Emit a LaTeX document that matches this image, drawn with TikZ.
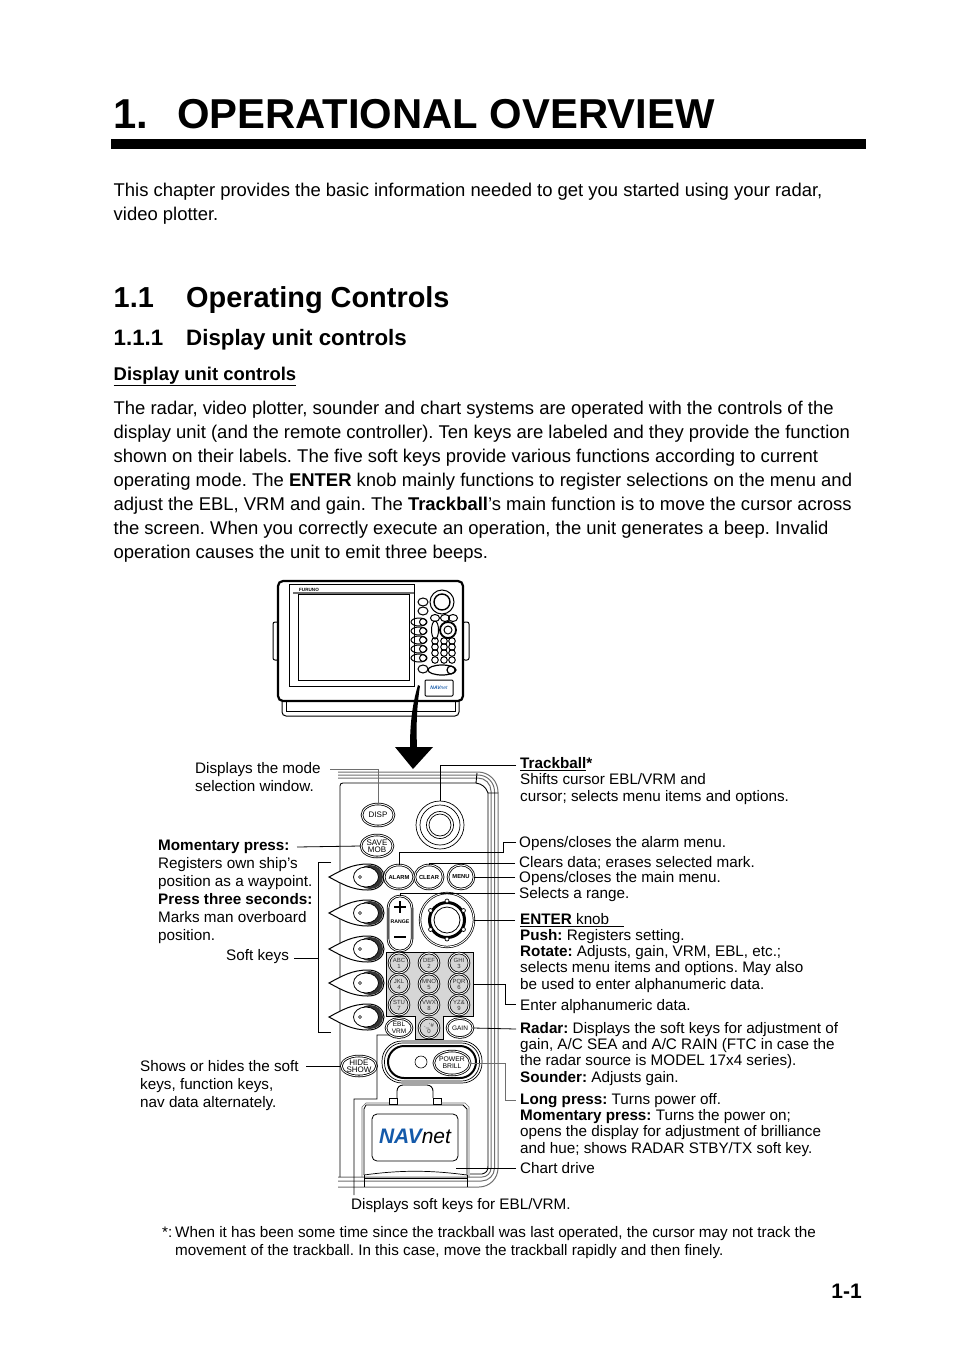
\documentclass[tikz,border=0pt]{standalone}
\usepackage{fontspec}
\setmainfont{Liberation Sans}
\usetikzlibrary{shapes.geometric}
\definecolor{navblue}{RGB}{20,90,170}
\definecolor{padgray}{RGB}{214,214,214}
\definecolor{leadgray}{RGB}{110,110,110}
\tikzset{
  bodytext/.style={anchor=base west, inner sep=0pt, align=left, font=\fontsize{18.45}{24}\selectfont\frenchspacing},
  labeltext/.style={anchor=base west, inner sep=0pt, align=left, font=\fontsize{15.25}{16.1}\selectfont\frenchspacing},
  sidetext/.style={anchor=base west, inner sep=0pt, align=left, font=\fontsize{15.25}{18}\selectfont\frenchspacing},
  keybtn/.style={draw, ellipse, fill=white, inner sep=0pt, line width=0.8pt, double, double distance=0.9pt, font=\fontsize{8}{8}\selectfont, align=center},
  smallkey/.style={keybtn, font=\fontsize{5.8}{6}\selectfont\bfseries},
  padkey/.style={keybtn, fill=padgray, minimum width=20pt, minimum height=20pt, font=\fontsize{6}{6}\selectfont, text=black!80},
  leader/.style={line width=0.8pt},
  panelline/.style={line width=1pt, leadgray}
}
\newcommand{\softkey}[1]{
  \begin{scope}[yshift=-#1pt]
    \draw[fill=white, line width=1pt] (329,0) .. controls (342,-7) and (352,-13) .. (368,-13) .. controls (378,-13) and (384,-7) .. (384,0) .. controls (384,7) and (378,13) .. (368,13) .. controls (352,13) and (342,7) .. (329,0) -- cycle;
    \fill[black!80] (370,0) ellipse (13 and 12);
    \draw[fill=white, line width=0.8pt] (366,0) ellipse (12.5 and 10);
    \draw[line width=0.6pt] (360,0) circle (1.5);
  \end{scope}
}
\begin{document}
\begin{tikzpicture}[x=1pt,y=-1pt]
\useasboundingbox (0,0) rectangle (954,1351);
% Page headings and running text
\node[anchor=base west, inner sep=0pt, font=\fontsize{41.8}{42}\selectfont\bfseries] (chapnum) at (113.5,129) {1.};
\node[anchor=base west, inner sep=0pt, font=\fontsize{41.8}{42}\selectfont\bfseries] (chaptitle) at (177,129) {OPERATIONAL OVERVIEW};
\fill (111,139) rectangle (866,149);
\node[bodytext] (intro) at (113.5,220) {This chapter provides the basic information needed to get you started using your radar,\\video plotter.};
\node[anchor=base west, inner sep=0pt, font=\fontsize{28.9}{29}\selectfont\bfseries] (secnum) at (113.5,307.5) {1.1};
\node[anchor=base west, inner sep=0pt, font=\fontsize{28.9}{29}\selectfont\bfseries] (sectitle) at (186,307.5) {Operating Controls};
\node[anchor=base west, inner sep=0pt, font=\fontsize{22.3}{22}\selectfont\bfseries] (subnum) at (113.5,345) {1.1.1};
\node[anchor=base west, inner sep=0pt, font=\fontsize{22.3}{22}\selectfont\bfseries] (subtitle) at (186,345) {Display unit controls};
\node[anchor=base west, inner sep=0pt, font=\fontsize{18.45}{24}\selectfont\bfseries] (runhead) at (113.5,380) {\underline{Display unit controls}};
\node[bodytext] (bodypara) at (113.5,558) {The radar, video plotter, sounder and chart systems are operated with the controls of the\\display unit (and the remote controller). Ten keys are labeled and they provide the function\\shown on their labels. The five soft keys provide various functions according to current\\operating mode. The \textbf{ENTER} knob mainly functions to register selections on the menu and\\adjust the EBL, VRM and gain. The \textbf{Trackball}’s main function is to move the cursor across\\the screen. When you correctly execute an operation, the unit generates a beep. Invalid\\operation causes the unit to emit three beeps.};

% Small view of the display unit
\draw[line width=1pt, rounded corners=4pt] (282,700) -- (282,716) -- (459,716) -- (459,700);
\draw[line width=0.6pt] (286,700) -- (286,711) -- (455,711) -- (455,700);
\draw[line width=1pt, rounded corners=2pt, fill=white] (273,622) rectangle (279,660);
\draw[line width=1pt, rounded corners=2pt, fill=white] (463,622) rectangle (469,660);
\draw[line width=2.2pt, rounded corners=5pt, fill=white] (278,581) rectangle (463,701);
\draw[line width=0.7pt] (289,584) rectangle (414,686);
\draw[line width=1pt] (298,594) rectangle (409,680);
\draw[line width=1.4pt, leadgray] (293,593) -- (414,593);
\node[inner sep=0pt, font=\fontsize{4.6}{5}\selectfont\bfseries] (logo) at (309,589.5) {FURUNO};
\draw[line width=1pt] (442,602) circle (12);
\draw[line width=1.4pt] (442,602) circle (8);
\foreach \y in {602,611,669} \draw[line width=1pt] (423,\y) ellipse (5 and 4);
\foreach \y in {622,631,640,649,658} {
  \draw[line width=1pt] (419,\y) ellipse (8 and 4);
  \draw[line width=1pt] (423,\y) circle (3.5);
}
\foreach \x in {435,445,453} \draw[line width=1pt] (\x,618) ellipse (4.5 and 3.5);
\draw[line width=1pt] (435,630) ellipse (3.5 and 9);
\draw[line width=1.8pt] (448,630) circle (8);
\draw[line width=1pt] (448,630) circle (4);
\foreach \x in {435,444,452} \foreach \y in {641,647,653,660} \draw[line width=1pt] (\x,\y) circle (3.3);
\draw[line width=1.2pt] (442,670) ellipse (14 and 5);
\draw[line width=1.2pt] (451,670) circle (4);
\draw[line width=1pt, rounded corners=1pt] (425,680) rectangle (453,696);
\node[inner sep=0pt, font=\fontsize{5}{5}\selectfont\itshape, text=navblue] (smallnav) at (439,688) {\textbf{NAV}net};
% Big arrow down to the panel
\fill (418,685) .. controls (412,705) and (410,725) .. (410,747) -- (395,747) -- (413,769) -- (433,747) -- (417,747) .. controls (416,725) and (417,705) .. (420,686) -- cycle;

% Panel outline
\draw[panelline] (338,772) -- (478,772) arc (-90:0:20) -- (498,1168) arc (0:90:19) -- (338,1187);
\draw[panelline] (338,775) -- (478,775) arc (-90:0:16.5) -- (494.5,1168) arc (0:90:13) -- (338,1181);
\draw[panelline] (338,778) -- (478,778) arc (-90:0:13) -- (491,1168) arc (0:90:9) -- (338,1177);
\draw[line width=0.9pt] (340,1177) -- (340,786) .. controls (340,784) and (341,783) .. (343,783) -- (476,783) -- (477,773);
\draw[line width=0.9pt] (476,783) .. controls (482,784) and (486,787) .. (488,793) -- (498,793);
\draw[line width=0.9pt] (488,793) -- (488,1166) .. controls (488,1171) and (486,1173) .. (482,1174) -- (470,1174);

% Soft keys
\foreach \y in {877,913,949,983,1017} {\softkey{\y}}

% Trackball
\node[draw, circle, minimum size=48pt, inner sep=0pt, line width=0.7pt] (trackball) at (440,825) {};
\draw[line width=0.7pt] (440,825) circle (20);
\draw[line width=0.7pt] (440,825) circle (13.5);
\draw[line width=0.7pt] (440,825) circle (11);

% Keypad background
\draw[fill=padgray, line width=1pt] (386,952) -- (473,952) -- (473,1016) -- (443,1016) -- (443,1039) -- (415,1039) -- (415,1016) -- (386,1016) -- cycle;

% Keys
\node[keybtn, minimum width=32pt, minimum height=22pt] (disp) at (378,815) {DISP};
\node[keybtn, minimum width=32pt, minimum height=22pt] (savemob) at (377,846) {SAVE\\[-1pt]MOB};
\node[smallkey, minimum width=25pt, minimum height=24pt] (alarm) at (399,877) {ALARM};
\node[smallkey, minimum width=25pt, minimum height=24pt] (clear) at (429,877) {CLEAR};
\node[smallkey, minimum width=26pt, minimum height=24pt] (menu) at (461,877) {MENU};
\node[draw, rounded corners=12pt, fill=white, line width=0.8pt, double, double distance=0.9pt, minimum width=24pt, minimum height=55pt, inner sep=0pt] (range) at (400,923.5) {};
\draw[line width=1.4pt] (394,907) -- (406,907) (400,901) -- (400,913);
\draw[line width=1.4pt] (394,937) -- (406,937);
\node[inner sep=0pt, font=\fontsize{5.2}{6}\selectfont\bfseries] (rangetxt) at (400,922) {RANGE};
\node[draw, circle, minimum size=54pt, inner sep=0pt, line width=0.7pt, double, double distance=0.9pt] (enter) at (447,920) {};
\draw[line width=3pt] (447,920) circle (17.5);
\draw[line width=0.8pt] (447,920) circle (13);
\foreach \a in {30,90,150,210,270,330} \draw[fill=white, line width=0.7pt] (447,920) ++(\a:19) circle (2);
\foreach \x/\y/\t/\n [count=\i] in {399/963/ABC/1,429/963/DEF/2,459/963/GHI/3,399/984/JKL/4,429/984/MNO/5,459/984/PQR/6,399/1005/STU/7,429/1005/VWX/8,459/1005/YZ\&/9} {
  \node[padkey] (pad\i) at (\x,\y) {\t\\\n};
}
\node[padkey] (padzero) at (429,1028) {.\_'\#\\0};
\node[keybtn, minimum width=26pt, minimum height=19pt, font=\fontsize{6.5}{6.5}\selectfont] (ebl) at (399,1028) {EBL\\VRM};
\node[keybtn, minimum width=26pt, minimum height=19pt, font=\fontsize{6.5}{6.5}\selectfont] (gain) at (460,1028) {GAIN};
\node[keybtn, minimum width=32pt, minimum height=20pt] (hide) at (359,1066) {HIDE\\[-1pt]SHOW};

% Power bar
\draw[fill=white, line width=0.7pt, rounded corners=20pt] (382,1041) rectangle (482,1083);
\draw[line width=0.7pt, rounded corners=18pt] (384.5,1043) rectangle (479.5,1081);
\draw[line width=2pt, rounded corners=16pt] (388,1046) rectangle (476,1078);
\node[draw, circle, minimum size=12pt, inner sep=0pt, line width=0.6pt] (lamp) at (421,1062) {};
\node[keybtn, minimum width=30pt, minimum height=24pt, font=\fontsize{6.8}{6.8}\selectfont] (power) at (452,1063) {POWER\\BRILL};

% Chart drive cover
\draw[line width=0.9pt, rounded corners=6pt] (397,1098) -- (397,1085) -- (433,1085) -- (433,1098);
\draw[line width=0.8pt] (389,1098) rectangle (397,1104);
\draw[line width=0.8pt] (433,1098) rectangle (441,1104);
\draw[line width=0.8pt] (364,1175) -- (364,1109) -- (366,1105) -- (463,1105) -- (467,1109) -- (467,1175);
\draw[line width=0.6pt, leadgray] (362,1177) -- (362,1107) -- (366,1103) -- (389,1103);
\draw[line width=0.6pt, leadgray] (441,1103) -- (465,1103) -- (469,1107) -- (469,1177);
\draw[line width=0.8pt, rounded corners=5pt] (372,1114) rectangle (458,1161);
\draw[line width=0.7pt] (364,1175) .. controls (400,1170) and (430,1170) .. (467,1175);
\draw[line width=0.7pt] (364,1178) -- (467,1178) (364,1187) -- (364,1175) (467,1187) -- (467,1175);
\node[inner sep=0pt, font=\fontsize{21}{21}\selectfont\itshape] (navnet) at (415,1136) {\textcolor{navblue}{\textbf{NAV}}net};

% Labels on the left
\node[sidetext] (modelbl) at (195,791) {Displays the mode\\selection window.};
\node[sidetext] (momlbl) at (158,940) {\textbf{Momentary press:}\\Registers own ship's\\position as a waypoint.\\\textbf{Press three seconds:}\\Marks man overboard\\position.};
\node[sidetext] (softlbl) at (226,960) {Soft keys};
\node[sidetext] (showlbl) at (140,1107.5) {Shows or hides the soft\\keys, function keys,\\nav data alternately.};
% Labels on the right
\node[labeltext] (trklbl) at (520,801) {\textbf{\underline{Trackball}*}\\Shifts cursor EBL/VRM and\\cursor; selects menu items and options.};
\node[labeltext] (alarmlbl) at (519,847) {Opens/closes the alarm menu.};
\node[labeltext] (clearlbl) at (519,867) {Clears data; erases selected mark.};
\node[labeltext] (menulbl) at (519,882) {Opens/closes the main menu.};
\node[labeltext] (rangelbl) at (519,898) {Selects a range.};
\node[labeltext] (enterlbl) at (520,989) {\textbf{\underline{ENTER}}\underline{ knob\phantom{xx}}\\\textbf{Push:} Registers setting.\\\textbf{Rotate:} Adjusts, gain, VRM, EBL, etc.;\\selects menu items and options. May also\\be used to enter alphanumeric data.};
\node[labeltext] (padlbl) at (520,1010) {Enter alphanumeric data.};
\node[labeltext] (radarlbl) at (520,1082) {\textbf{Radar:} Displays the soft keys for adjustment of\\gain, A/C SEA and A/C RAIN (FTC in case the\\the radar source is MODEL 17x4 series).\\\textbf{Sounder:} Adjusts gain.};
\node[labeltext] (powerlbl) at (520,1153) {\textbf{Long press:} Turns power off.\\\textbf{Momentary press:} Turns the power on;\\opens the display for adjustment of brilliance\\and hue; shows RADAR STBY/TX soft key.};
\node[labeltext] (drivelbl) at (520,1173) {Chart drive};
\node[labeltext] (ebllbl) at (351,1209) {Displays soft keys for EBL/VRM.};
% Footnote and page number
\node[anchor=base west, inner sep=0pt, font=\fontsize{15.25}{15.3}\selectfont] (fnmark) at (162,1237) {*:};
\node[anchor=base west, inner sep=0pt, align=left, font=\fontsize{15.25}{18}\selectfont\frenchspacing] (fntext) at (175,1255) {When it has been some time since the trackball was last operated, the cursor may not track the\\movement of the trackball. In this case, move the trackball rapidly and then finely.};
\node[anchor=base east, inner sep=0pt, font=\fontsize{21}{21}\selectfont\bfseries] (pagenum) at (862,1298) {1-1};

% Free ends of the leaders
\coordinate (endmode) at (330,769);
\coordinate (endtrk) at (516,765);
\coordinate (endmom) at (297,847);
\coordinate (endsoft) at (294,958);
\coordinate (softtop) at (331,862);
\coordinate (softmid) at (318,958);
\coordinate (softbot) at (331,1032);
\coordinate (endalarm) at (516,842);
\coordinate (endclear) at (515,863);
\coordinate (endmenu) at (515,877);
\coordinate (endrange) at (515,893);
\coordinate (endenter) at (515,920);
\coordinate (padright) at (473,984);
\coordinate (endpad) at (516,1004);
\coordinate (endgain) at (516,1029);
\coordinate (endpower) at (516,1100);
\coordinate (enddrive) at (516,1168);
\coordinate (drivepoint) at (456,1168);
\coordinate (endebl) at (354,1195);
\coordinate (endshow) at (306,1066);

% Leaders
\draw[leader, leadgray] (endmode) -| (disp.north);
\draw[leader] (endtrk) -| (trackball.north);
\draw[leader] (endmom) -- (savemob.west);
\draw[leader] (softtop) -- (318,862) -- (318,1032) -- (softbot);
\draw[leader] (endsoft) -- (softmid);
\draw[leader] (endalarm) -- (503,842) -- (503,852) -- (399,852) -- (alarm.north);
\draw[leader] (endclear) -| (clear.north);
\draw[leader] (endmenu) -- (menu.east);
\draw[leader] (endrange) -| (range.north);
\draw[leader] (endenter) -- (enter.east);
\draw[leader] (padright) -- (505,984) |- (endpad);
\draw[leader] (endgain) -- (gain.east);
\draw[leader, leadgray] (power.east) -- (505,1063) |- (endpower);
\draw[leader] (enddrive) -- (drivepoint);
\draw[leader] (ebl.south west) -- (377,1035) -- (377,1099) -- (354,1099) -- (endebl);
\draw[leader] (endshow) -- (hide.west);
\end{tikzpicture}
\end{document}
